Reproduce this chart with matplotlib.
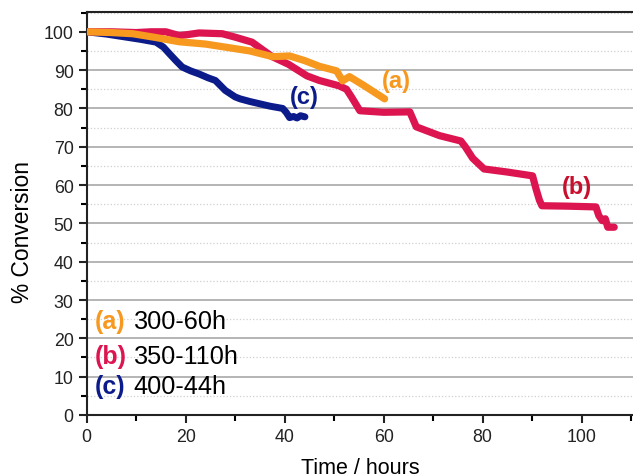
import matplotlib.pyplot as plt
from matplotlib.ticker import MultipleLocator

plt.rcParams['font.family'] = ['Liberation Sans', 'DejaVu Sans']

# (a) 300-60h
t_a = [0, 5, 9.3, 14, 18.7, 24, 29, 33, 37.6, 41, 44, 47, 50.5, 51.7, 53.1, 56, 60.2]
v_a = [100, 99.8, 99.5, 98.5, 97.4, 96.8, 95.8, 95, 93.5, 93.7, 92.5, 91, 89.8, 87.2, 88.3, 86, 82.5]

# (b) 350-110h
t_b = [0, 5, 10, 13, 16, 18.7, 20, 22.7, 27.4, 30, 33.4, 37.5, 40.8, 44.5, 47, 51, 52.5, 53.5,
       55.2, 60, 65.3, 66.6, 71.3, 75.6, 76.5, 78, 80.3, 85, 90.1, 90.8, 91.5, 92, 97, 102.9,
       103.5, 104.2, 104.8, 105.3, 106.6]
v_b = [100, 100, 99.8, 100, 100, 99, 99.2, 99.7, 99.5, 98.6, 97.3, 93.5, 91.5, 88.5, 87.3, 85.9, 85, 83,
       79.4, 79, 79.1, 75.2, 72.9, 71.5, 70, 67, 64.2, 63.4, 62.4, 59, 56, 54.6, 54.5, 54.3,
       52, 50.7, 51.2, 49, 49]

# (c) 400-44h
t_c = [0, 4, 8, 11, 14, 15.5, 16.7, 18, 19.3, 21, 22.7, 24.5, 26, 27, 28, 30, 31, 33, 35, 37,
       39.6, 40.3, 41, 41.8, 42.5, 43.2, 44.1]
v_c = [100, 99.4, 98.6, 98, 97.3, 96, 94.3, 92.5, 90.8, 89.8, 89, 88, 87.3, 86, 84.7, 83, 82.5,
       81.8, 81.2, 80.6, 80, 79, 77.6, 77.9, 77.5, 78.1, 77.8]

c_a = '#F7981F'
c_b = '#DC1450'
c_c = '#0C1B8A'

fig = plt.figure(figsize=(6.33, 4.77), dpi=100)
ax = fig.add_axes([0.137, 0.128, 0.863, 0.845])

ax.plot(t_c, v_c, color=c_c, lw=5, solid_capstyle='round', solid_joinstyle='round', zorder=3)
ax.plot(t_b, v_b, color=c_b, lw=5.2, solid_capstyle='round', solid_joinstyle='round', zorder=3)
ax.plot(t_a, v_a, color=c_a, lw=5.2, solid_capstyle='round', solid_joinstyle='round', zorder=4)

ax.set_xlim(0, 110.4)
ax.set_ylim(0, 105.2)
ax.xaxis.set_major_locator(MultipleLocator(20))
ax.xaxis.set_minor_locator(MultipleLocator(10))
ax.yaxis.set_major_locator(MultipleLocator(10))
ax.yaxis.set_minor_locator(MultipleLocator(5))

ax.grid(axis='y', which='major', color='#b4b4b4', lw=1.4, ls='-')
ax.grid(axis='y', which='minor', color='#d0d0d0', lw=0.9, ls=':')
ax.set_axisbelow(True)

ax.spines['right'].set_visible(False)
for s in ['left', 'bottom', 'top']:
    ax.spines[s].set_linewidth(1.5)
    ax.spines[s].set_color('#222222')
ax.tick_params(which='major', direction='out', length=6, width=1.5, labelsize=12.8, colors='#222222')
ax.tick_params(which='minor', direction='out', length=4, width=1.5)

ax.set_xlabel('Time / hours', fontsize=15.5)
ax.xaxis.set_label_coords(0.5, -0.104)
ax.set_ylabel('% Conversion', fontsize=16.4)
ax.yaxis.set_label_coords(-0.097, 0.457)

ax.text(62.6, 87.2, '(a)', color=c_a, fontsize=17, fontweight='bold', ha='center', va='center')
ax.text(99, 59.5, '(b)', color='#C8102E', fontsize=17, fontweight='bold', ha='center', va='center')
ax.text(44, 83, '(c)', color=c_c, fontsize=17, fontweight='bold', ha='center', va='center')

legend_rows = [('(a)', c_a, '300-60h', 24.5), ('(b)', c_b, '350-110h', 15.4), ('(c)', c_c, '400-44h', 7.6)]
for tag, col, txt, y in legend_rows:
    ax.text(1.7, y, tag, color=col, fontsize=18, fontweight='bold', va='center')
    ax.text(9.5, y, txt, color='black', fontsize=18.2, va='center')

fig.savefig('out.png', dpi=100)
